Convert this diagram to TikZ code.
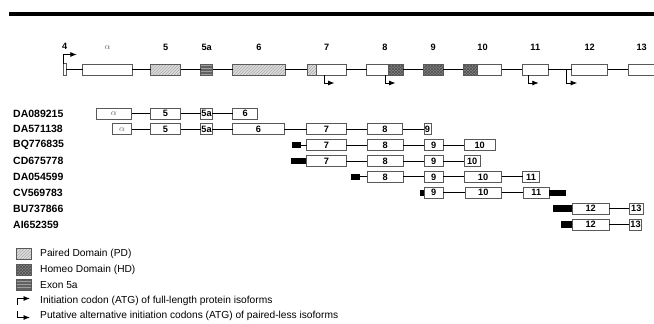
\documentclass[tikz,border=0pt]{standalone}
\usepackage{fontspec}
\setmainfont{Liberation Sans}
\usetikzlibrary{arrows.meta,patterns}
\tikzset{
  exbase/.style={draw=black!65, line width=0.9pt, inner sep=0pt, outer sep=0pt, anchor=west, minimum height=11pt, font=\bfseries\fontsize{9.2}{9}\selectfont},
  exbox/.style={exbase, fill=white},
  pdbox/.style={exbase, preaction={fill=black!14}, pattern=north east lines, pattern color=black!32},
  hdbox/.style={exbase, preaction={fill=black!48}, pattern=crosshatch, pattern color=black!70},
  xabox/.style={exbase, preaction={fill=black!62}, pattern=horizontal lines, pattern color=black!38},
  pdpart/.style={draw=black!65, line width=0.9pt, preaction={fill=black!14}, pattern=north east lines, pattern color=black!32},
  hdpart/.style={draw=black!65, line width=0.9pt, preaction={fill=black!48}, pattern=crosshatch, pattern color=black!70},
  utr/.style={fill=black, draw=none, inner sep=0pt, outer sep=0pt, anchor=west, minimum height=6.5pt},
  intron/.style={line width=1.1pt},
  atg/.style={line width=0.8pt, -{Latex[length=6.5pt,width=5pt]}},
  toplbl/.style={font=\bfseries\fontsize{9.2}{9}\selectfont, anchor=base},
  rowlbl/.style={font=\bfseries\fontsize{10.5}{11}\selectfont, anchor=west, inner sep=0pt},
  leglbl/.style={font=\fontsize{10.2}{11}\selectfont, anchor=west, inner sep=0pt},
  alph/.style={text=black!60, font=\normalfont\fontsize{9}{9}\selectfont}
}
\newcommand{\exon}[6]{\node[#5, minimum width={(#3-#2)*1pt}] (#1) at (#2,#4) {#6};}
\begin{document}
\begin{tikzpicture}[x=1pt,y=-1pt]
\useasboundingbox (0,0) rectangle (654,324);
\clip (0,0) rectangle (654,324);
% top rule
\coordinate (ruleL) at (9,14);
\coordinate (ruleR) at (660,14);
\draw[line width=3.5pt] (ruleL) -- (ruleR);
% gene structure
\def\gy{69.5}
\exon{g4}{63.3}{66}{\gy}{exbox,minimum height=12pt}{}
\exon{gA}{82.7}{132.3}{\gy}{exbox}{}
\exon{g5}{150.7}{180.7}{\gy}{pdbox}{}
\exon{g5a}{200.7}{212.7}{\gy}{xabox}{}
\exon{g6}{232.7}{285}{\gy}{pdbox}{}
\exon{g7}{307.3}{346}{\gy}{exbox}{}
\exon{g8}{366.7}{403.3}{\gy}{exbox}{}
\exon{g9}{423.3}{443.3}{\gy}{hdbox}{}
\exon{g10}{463.3}{501.7}{\gy}{exbox}{}
\exon{g11}{522.3}{548.3}{\gy}{exbox}{}
\exon{g12}{571.7}{607.7}{\gy}{exbox}{}
\exon{g13}{628.3}{664}{\gy}{exbox}{}
\path[pdpart] (g7.north west) rectangle ([xshift=9.4pt]g7.south west);
\path[hdpart] ([xshift=-15pt]g8.north east) rectangle (g8.south east);
\path[hdpart] (g10.north west) rectangle ([xshift=14pt]g10.south west);
\draw[intron] (g4.east) -- (gA.west) (gA.east) -- (g5.west) (g5.east) -- (g5a.west)
  (g5a.east) -- (g6.west) (g6.east) -- (g7.west) (g7.east) -- (g8.west)
  (g8.east) -- (g9.west) (g9.east) -- (g10.west) (g10.east) -- (g11.west)
  (g11.east) -- (g12.west) (g12.east) -- (g13.west);
% exon labels
\path (g4.north) ++(0,-13.8) node[toplbl] (t4) {4};
\path (gA.north) ++(0,-14.5) node[toplbl,alph,anchor=base] (tA) {$\alpha$};
\path (g5.north) ++(0,-13.8) node[toplbl] (t5) {5};
\path (g5a.north) ++(0,-13.8) node[toplbl] (t5a) {5a};
\path (g6.north) ++(0,-13.8) node[toplbl] (t6) {6};
\path (g7.north) ++(0,-13.8) node[toplbl] (t7) {7};
\path (g8.north) ++(0,-13.8) node[toplbl] (t8) {8};
\path (g9.north) ++(0,-13.8) node[toplbl] (t9) {9};
\path (g10.north) ++(0,-13.8) node[toplbl] (t10) {10};
\path (g11.north) ++(0,-13.8) node[toplbl] (t11) {11};
\path (g12.north) ++(0,-13.8) node[toplbl] (t12) {12};
\path ([xshift=13.4pt]g13.north west) ++(0,-13.8) node[toplbl] (t13) {13};
% initiation codons
\draw[atg] (g4.north west) -- ++(0,-9) -- ++(13.5,0);
\draw[atg] ([xshift=16.7pt]g7.south west) -- ++(0,8) -- ++(10.5,0);
\draw[atg] ([xshift=18.3pt]g8.south west) -- ++(0,8) -- ++(10.5,0);
\draw[atg] ([xshift=6pt]g11.south west) -- ++(0,8) -- ++(10.5,0);
\draw[atg] ([xshift=-5pt]g12.west) -- ++(0,13.5) -- ++(10.5,0);
% transcripts
\node[rowlbl] (l1) at (13,113.5) {DA089215};
\node[rowlbl] (l2) at (13,129.35) {DA571138};
\node[rowlbl] (l3) at (13,145.2) {BQ776835};
\node[rowlbl] (l4) at (13,161.05) {CD675778};
\node[rowlbl] (l5) at (13,176.9) {DA054599};
\node[rowlbl] (l6) at (13,192.75) {CV569783};
\node[rowlbl] (l7) at (13,208.6) {BU737866};
\node[rowlbl] (l8) at (13,224.45) {AI652359};
% row 1
\def\ry{113.5}
\exon{a1}{96}{131.7}{\ry}{exbox,alph}{$\alpha$}
\exon{b1}{150}{180.7}{\ry}{exbox}{5}
\exon{c1}{200.7}{212.3}{\ry}{exbox}{5a}
\exon{d1}{232.7}{257.7}{\ry}{exbox}{6}
\draw[intron] (a1.east) -- (b1.west) (b1.east) -- (c1.west) (c1.east) -- (d1.west);
% row 2
\def\ry{129.35}
\exon{a2}{112.7}{131.7}{\ry}{exbox,alph}{$\alpha$}
\exon{b2}{150}{180.7}{\ry}{exbox}{5}
\exon{c2}{200.7}{212.3}{\ry}{exbox}{5a}
\exon{d2}{232.7}{284.3}{\ry}{exbox}{6}
\exon{e2}{306.7}{346}{\ry}{exbox}{7}
\exon{f2}{367.3}{402.7}{\ry}{exbox}{8}
\exon{h2}{424}{431}{\ry}{exbox}{9}
\draw[intron] (a2.east) -- (b2.west) (b2.east) -- (c2.west) (c2.east) -- (d2.west)
  (d2.east) -- (e2.west) (e2.east) -- (f2.west) (f2.east) -- (h2.west);
% row 3
\def\ry{145.2}
\exon{u3}{291.7}{300.7}{\ry}{utr}{}
\exon{e3}{306.7}{346}{\ry}{exbox}{7}
\exon{f3}{367.3}{403.3}{\ry}{exbox}{8}
\exon{h3}{424}{443.3}{\ry}{exbox}{9}
\exon{i3}{464.3}{495}{\ry}{exbox}{10}
\draw[intron] (u3.east) -- (e3.west) (e3.east) -- (f3.west) (f3.east) -- (h3.west) (h3.east) -- (i3.west);
% row 4
\def\ry{161.05}
\exon{u4}{291}{306.7}{\ry}{utr}{}
\exon{e4}{306.7}{346}{\ry}{exbox}{7}
\exon{f4}{367.3}{403.3}{\ry}{exbox}{8}
\exon{h4}{424}{443.3}{\ry}{exbox}{9}
\exon{i4}{464.3}{480}{\ry}{exbox}{10}
\draw[intron] (e4.east) -- (f4.west) (f4.east) -- (h4.west) (h4.east) -- (i4.west);
% row 5
\def\ry{176.9}
\exon{u5}{351}{360}{\ry}{utr}{}
\exon{f5}{367.3}{403.3}{\ry}{exbox}{8}
\exon{h5}{424}{443.3}{\ry}{exbox}{9}
\exon{i5}{464.3}{501.7}{\ry}{exbox}{10}
\exon{j5}{522.7}{539.3}{\ry}{exbox}{11}
\draw[intron] (u5.east) -- (f5.west) (f5.east) -- (h5.west) (h5.east) -- (i5.west) (i5.east) -- (j5.west);
% row 6
\def\ry{192.75}
\exon{u6}{420}{424}{\ry}{utr}{}
\exon{h6}{424}{443.3}{\ry}{exbox}{9}
\exon{i6}{465}{501.7}{\ry}{exbox}{10}
\exon{j6}{523.3}{549.3}{\ry}{exbox}{11}
\exon{v6}{549.3}{566}{\ry}{utr}{}
\draw[intron] (h6.east) -- (i6.west) (i6.east) -- (j6.west);
% row 7
\def\ry{208.6}
\exon{u7}{553.3}{572.3}{\ry}{utr}{}
\exon{k7}{572.3}{609}{\ry}{exbox}{12}
\exon{m7}{629.3}{643.3}{\ry}{exbox}{13}
\draw[intron] (k7.east) -- (m7.west);
% row 8
\def\ry{224.45}
\exon{u8}{560.7}{572.3}{\ry}{utr}{}
\exon{k8}{572.3}{609}{\ry}{exbox}{12}
\exon{m8}{629.3}{641.7}{\ry}{exbox}{13}
\draw[intron] (k8.east) -- (m8.west);
% legend
\exon{lpd}{16}{31}{254}{pdbox}{}
\exon{lhd}{16}{31}{269.5}{hdbox}{}
\exon{lxa}{16}{31}{285}{xabox}{}
\node[leglbl] (tpd) at (40,254) {Paired Domain (PD)};
\node[leglbl] (thd) at (40,269.5) {Homeo Domain (HD)};
\node[leglbl] (txa) at (40,285) {Exon 5a};
\coordinate (ia) at (17,305);
\draw[atg] (ia) -- ++(0,-6.5) -- ++(13,0);
\node[leglbl] (tia) at (40,300.5) {Initiation codon (ATG) of full-length protein isoforms};
\coordinate (pa) at (17,311);
\draw[atg] (pa) -- ++(0,6.5) -- ++(13,0);
\node[leglbl] (tpa) at (40,316) {Putative alternative initiation codons (ATG) of paired-less isoforms};
\end{tikzpicture}
\end{document}
